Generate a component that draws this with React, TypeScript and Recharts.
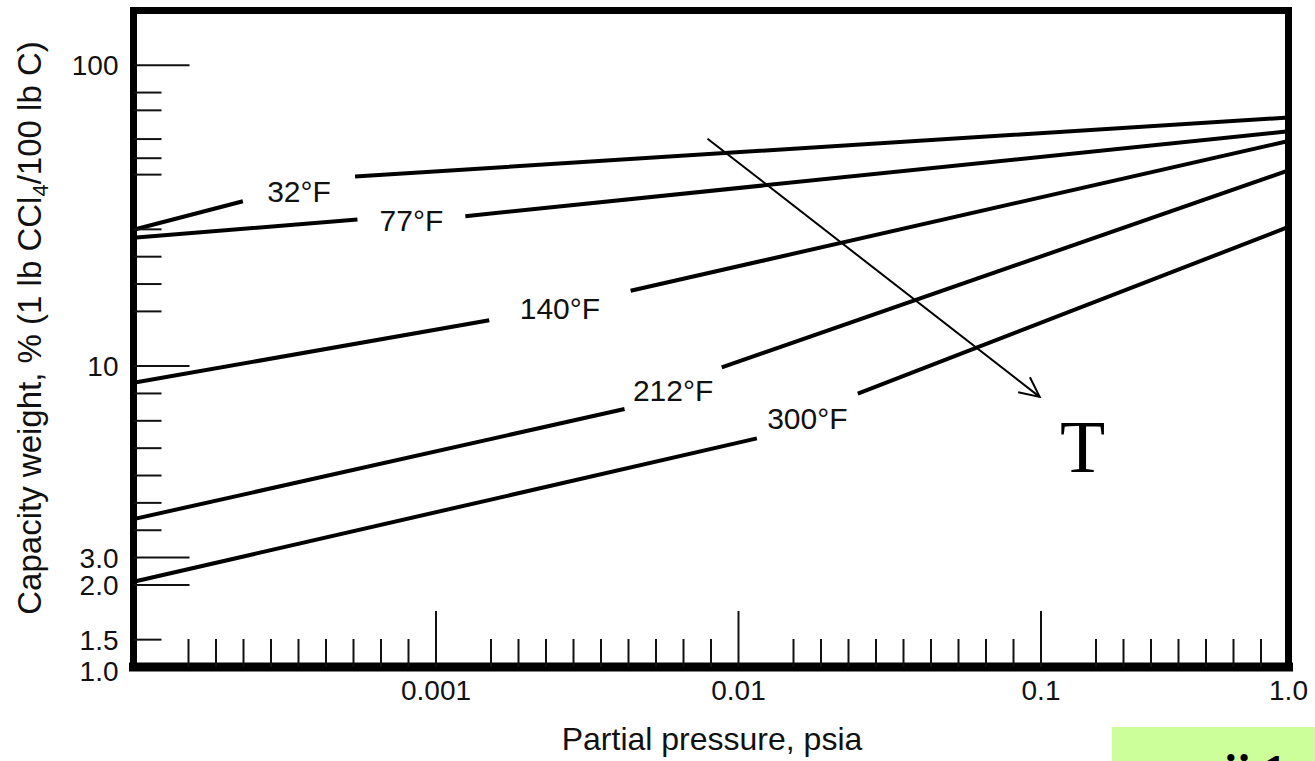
import React from "react";
import { LineChart, Line, XAxis, YAxis, ReferenceLine, ReferenceDot } from "recharts";

// Isotherms: [partial pressure psia, capacity wt %].
// 2nd and 3rd points bracket the gap where the temperature label sits.
const temps = ["32°F", "77°F", "140°F", "212°F", "300°F"];
const iso32: [number, number][] = [[0.0001, 28.4], [0.00023, 35.3], [0.00054, 42.7], [1.0, 67]];
const iso77: [number, number][] = [[0.0001, 26.7], [0.00055, 30.7], [0.00125, 31.5], [1.0, 60.3]];
const iso140: [number, number][] = [[0.0001, 8.8], [0.0015, 14.2], [0.0044, 17.8], [1.0, 56]];
const iso212: [number, number][] = [[0.0001, 3.1], [0.0042, 7.2], [0.0088, 9.9], [1.0, 44.7]];
const iso300: [number, number][] = [[0.0001, 1.92], [0.0115, 5.75], [0.0248, 8.1], [1.0, 29]];
const isotherms = [iso32, iso77, iso140, iso212, iso300];

// arrow showing increasing T
const arrowFrom: [number, number] = [0.0079, 57];
const arrowTo: [number, number] = [0.099, 7.9];

// Ticks are in 1/11-decade steps, the way the original scale is drawn.
const xBottomMajor = [11, 22, 33];
const xBottomMinor = [2, 3, 4, 5, 6, 7, 8, 9, 10, 13, 14, 15, 16, 17, 18, 19, 20, 21, 24, 25, 26, 27, 28, 29, 30, 31, 32, 35, 36, 37, 38, 39, 40, 41];
const xBottomLabels: Record<number, string> = { 11: "0.001", 22: "0.01", 33: "0.1", 42: "1.0" };

const xTopMajor = [11, 22, 34];
const xTopMinor = [2, 3, 4, 5, 6, 7, 8, 9, 10, 13, 14, 15, 16, 17, 18, 19, 20, 21, 24, 25, 26, 27, 28, 29, 30, 31, 32, 33, 36, 37, 38, 39, 40, 41];

const yLeftMajor = [3, 4, 11, 22];
const yLeftMinor = [1, 5, 6, 7, 8, 9, 10, 13, 14, 15, 16, 18, 18.6, 19.3, 20.35, 21];
const yLeftLabels: Record<number, string> = { 22: "100", 11: "10", 4: "3.0", 3: "2.0", 1: "1.5", 0: "1.0" };

const yRightMajor = [3, 5, 14, 21];
const yRightMinor = [2, 6, 7, 8, 9, 10, 11, 12, 13, 15, 16, 17, 18];

const FONT = '"Liberation Sans", Arial, Helvetica, sans-serif';

// psia -> axis units (last decade is squeezed into 9 steps on the original)
const xUnit = (p: number) => {
  const d = Math.log10(p) + 4;
  return d <= 3 ? d * 11 : 33 + (d - 3) * 9;
};
const yUnit = (w: number) => Math.log10(w) * 11;

function toSeries(points: [number, number][]) {
  const rows = points.map(([p, w]) => ({ x: xUnit(p), y: yUnit(w) as number | null }));
  const gap = { x: (rows[1].x + rows[2].x) / 2, y: null };
  return [rows[0], rows[1], gap, rows[2], rows[3]];
}

function labelPoint(points: [number, number][]) {
  const a = { x: xUnit(points[1][0]), y: yUnit(points[1][1]) };
  const b = { x: xUnit(points[2][0]), y: yUnit(points[2][1]) };
  return { x: (a.x + b.x) / 2, y: (a.y + b.y) / 2 };
}

function axisTick(
  side: "bottom" | "top" | "left" | "right",
  major: number[],
  minor: number[],
  labels: Record<number, string> = {},
) {
  return (props: any) => {
    const { x, y, payload } = props;
    const v = payload.value;
    const len = major.includes(v) ? 56 : minor.includes(v) ? 28 : 0;
    const label = labels[v];
    let line = null;
    let text = null;
    if (side === "bottom") {
      if (len) line = <line x1={x} y1={y} x2={x} y2={y - len} />;
      if (label)
        text = (
          <text x={x} y={y + 33} textAnchor="middle">
            {label}
          </text>
        );
    } else if (side === "top") {
      if (len) line = <line x1={x} y1={y} x2={x} y2={y + len} />;
    } else if (side === "left") {
      if (len) line = <line x1={x} y1={y} x2={x + len} y2={y} />;
      if (label)
        text = (
          <text x={x - 15} y={y + (v === 0 ? 14 : 10)} textAnchor="end">
            {label}
          </text>
        );
    } else {
      if (len) line = <line x1={x} y1={y} x2={x - len} y2={y} />;
    }
    return (
      <g stroke="#111" strokeWidth={2}>
        {line}
        {text && (
          <g stroke="none" fill="#111" fontSize={28} fontFamily={FONT}>
            {text}
          </g>
        )}
      </g>
    );
  };
}

function Arrow(props: any) {
  const { x1, y1, x2, y2 } = props;
  const ang = Math.atan2(y2 - y1, x2 - x1);
  const head = 22;
  const spread = 0.45;
  const hx1 = x2 - head * Math.cos(ang - spread);
  const hy1 = y2 - head * Math.sin(ang - spread);
  const hx2 = x2 - head * Math.cos(ang + spread);
  const hy2 = y2 - head * Math.sin(ang + spread);
  return (
    <g stroke="#000" strokeWidth={2} fill="none">
      <line x1={x1} y1={y1} x2={x2} y2={y2} />
      <polyline points={`${hx1},${hy1} ${x2},${y2} ${hx2},${hy2}`} />
    </g>
  );
}

const frame = { stroke: "#000", strokeWidth: 7, strokeLinecap: "square" as const };

export default function App() {
  const allX = [...new Set([...xBottomMajor, ...xBottomMinor, 42])];
  const allXTop = [...xTopMajor, ...xTopMinor];
  const allYLeft = [...new Set([...yLeftMajor, ...yLeftMinor, 0])];
  const allYRight = [...yRightMajor, ...yRightMinor];

  return (
    <div style={{ position: "absolute", left: 0, top: 0, width: 1315, height: 761, background: "#fff" }}>
      <LineChart width={1315} height={761} margin={{ top: 5.5, right: 16.5, bottom: 34, left: 33.5 }}>
        <XAxis
          xAxisId={0}
          type="number"
          dataKey="x"
          domain={[0, 42]}
          ticks={allX}
          interval={0}
          tickSize={0}
          tickMargin={0}
          height={60}
          axisLine={{ ...frame, strokeWidth: 9 }}
          tickLine={false}
          tick={axisTick("bottom", xBottomMajor, xBottomMinor, xBottomLabels)}
          label={{
            content: () => (
              <text x={712} y={750} textAnchor="middle" fontSize={32} fontFamily={FONT} fill="#111">
                Partial pressure, psia
              </text>
            ),
          }}
        />
        <XAxis
          xAxisId="top"
          orientation="top"
          type="number"
          domain={[0, 42]}
          ticks={allXTop}
          interval={0}
          tickSize={0}
          tickMargin={0}
          height={5}
          axisLine={frame}
          tickLine={false}
          tick={axisTick("top", xTopMajor, xTopMinor)}
        />
        <YAxis
          yAxisId={0}
          type="number"
          domain={[0, 24]}
          ticks={allYLeft}
          interval={0}
          tickSize={0}
          tickMargin={0}
          width={100}
          axisLine={frame}
          tickLine={false}
          tick={axisTick("left", yLeftMajor, yLeftMinor, yLeftLabels)}
          label={{
            content: () => (
              <text
                x={41}
                y={328}
                transform="rotate(-90 41 328)"
                textAnchor="middle"
                fontSize={33}
                fontFamily={FONT}
                fill="#111"
              >
                Capacity weight, % (1 lb CCl
                <tspan fontSize={22} dy={7}>
                  4
                </tspan>
                <tspan dy={-7}>/100 lb C)</tspan>
              </text>
            ),
          }}
        />
        <YAxis
          yAxisId="right"
          orientation="right"
          type="number"
          domain={[0, 24]}
          ticks={allYRight}
          interval={0}
          tickSize={0}
          tickMargin={0}
          width={10}
          axisLine={frame}
          tickLine={false}
          tick={axisTick("right", yRightMajor, yRightMinor)}
        />

        {isotherms.map((pts, i) => (
          <Line
            key={temps[i]}
            data={toSeries(pts)}
            dataKey="y"
            type="linear"
            stroke="#000"
            strokeWidth={4}
            dot={false}
            activeDot={false}
            connectNulls={false}
            isAnimationActive={false}
          />
        ))}

        {isotherms.map((pts, i) => {
          const c = labelPoint(pts);
          return (
            <ReferenceDot
              key={"lbl" + temps[i]}
              x={c.x}
              y={c.y}
              r={0}
              shape={(p: any) => (
                <text
                  x={p.cx}
                  y={p.cy + 13}
                  textAnchor="middle"
                  fontSize={30}
                  fontFamily={FONT}
                  fill="#111"
                >
                  {temps[i]}
                </text>
              )}
            />
          );
        })}

        <ReferenceLine
          segment={[
            { x: xUnit(arrowFrom[0]), y: yUnit(arrowFrom[1]) },
            { x: xUnit(arrowTo[0]), y: yUnit(arrowTo[1]) },
          ]}
          ifOverflow="visible"
          shape={Arrow}
        />
      </LineChart>

      <div
        style={{
          position: "absolute",
          left: 1060,
          top: 410,
          fontFamily: '"Liberation Serif", "Times New Roman", serif',
          fontSize: 74,
          lineHeight: "74px",
          color: "#000",
        }}
      >
        T
      </div>

      <div
        style={{
          position: "absolute",
          left: 1112,
          top: 727,
          width: 203,
          height: 34,
          background: "#ccff99",
          overflow: "hidden",
        }}
      >
        <svg width={203} height={34}>
          <text x={112} y={61} fontSize={48} fontWeight="bold" fontFamily='"Liberation Serif", serif'>
            ii 1
          </text>
        </svg>
      </div>
    </div>
  );
}
